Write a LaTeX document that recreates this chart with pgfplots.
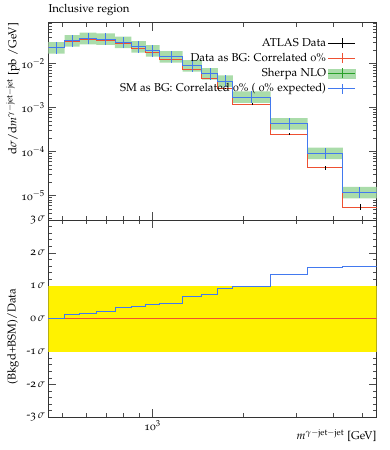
\documentclass[border=0pt]{standalone}
\usepackage[osf]{mathpazo}
\usepackage[T1]{fontenc}
\usepackage{pgfplots}
\usepackage{pgfplotstable}
\pgfplotsset{compat=1.18}
\definecolor{rvred}{RGB}{238,80,50}
\definecolor{rvblue}{RGB}{66,121,239}
\definecolor{rvband}{RGB}{170,220,170}
\definecolor{rvgreen}{RGB}{40,160,40}

% SM (Sherpa NLO) histogram: left bin edge, value
\pgfplotstableread{
xl y
450 0.0225
510 0.0325
572 0.0368
650 0.0355
750 0.0300
850 0.0238
950 0.0193
1055 0.0141
1260 0.00883
1460 0.00582
1650 0.00397
1850 0.00172
2470 4.27e-4
3280 9.15e-5
4300 1.17e-5
5570 1.17e-5
}\smhist

% Data histogram
\pgfplotstableread{
xl y
450 0.0225
510 0.0310
572 0.0350
650 0.0335
750 0.0278
850 0.0219
950 0.0177
1055 0.0125
1260 0.00743
1460 0.00448
1650 0.00271
1850 0.00118
2470 2.50e-4
3280 4.26e-5
4300 5.5e-6
5570 5.5e-6
}\datahist

% Data at bin centres with errors
\pgfplotstableread{
x y e
479 0.0225 0.00045
540 0.0310 0.00062
610 0.0350 0.0007
698 0.0335 0.00067
798 0.0278 0.00056
899 0.0219 0.00044
1001 0.0177 0.00035
1153 0.0125 0.00031
1356 0.00743 0.00022
1552 0.00448 0.00016
1747 0.00271 0.00011
2138 0.00118 0.00006
2846 2.50e-4 1.75e-5
3756 4.26e-5 3.8e-6
4894 5.5e-6 8e-7
}\datapts

% Ratio in sigma
\pgfplotstableread{
xl s
450 0
510 0.12
572 0.155
650 0.21
750 0.34
850 0.36
950 0.43
1055 0.47
1260 0.69
1460 0.75
1650 0.92
1850 0.99
2470 1.33
3280 1.56
4300 1.60
5570 1.60
}\ratio

\begin{document}
\begin{tikzpicture}[font=\fontsize{11.4}{13.6}\selectfont]
\useasboundingbox (0,0) rectangle (389pt,450pt);

% ---------------- main panel
\begin{axis}[
  scale only axis, width=328.4pt, height=197.3pt,
  xmode=log, xmin=450, xmax=5570,
  axis line style={black!80, line width=0.5pt},
  every tick/.append style={black!70, line width=0.5pt},
  major tick length=8pt, minor tick length=4pt,
  xtick={1000},
  minor xtick={500,600,700,800,900,2000,3000,4000,5000},
  at={(48.3pt,230pt)}, anchor=south west,
  ymode=log, ymin=2.8e-6, ymax=0.084,
  xticklabels={},
  ytick={1e-5,1e-4,1e-3,1e-2},
  yticklabels={10$^{-5}$,10$^{-4}$,10$^{-3}$,10$^{-2}$},
  minor ytick={3e-6,4e-6,5e-6,6e-6,7e-6,8e-6,9e-6,
    2e-5,3e-5,4e-5,5e-5,6e-5,7e-5,8e-5,9e-5,
    2e-4,3e-4,4e-4,5e-4,6e-4,7e-4,8e-4,9e-4,
    2e-3,3e-3,4e-3,5e-3,6e-3,7e-3,8e-3,9e-3,
    2e-2,3e-2,4e-2,5e-2,6e-2,7e-2,8e-2},
  unbounded coords=jump,
  legend style={at={(0.937,0.932)}, anchor=north east, draw=none, fill=none,
    row sep=1.5pt, inner sep=0pt},
  legend cell align=right,
  legend plot pos=right,
]
\addlegendimage{legend image code/.code={
  \draw[black, line width=0.8pt] (0pt,0pt) -- (27pt,0pt);
  \draw[black, line width=0.8pt] (13.5pt,-5pt) -- (13.5pt,5pt);}}
\addlegendentry{ATLAS Data}
\addlegendimage{legend image code/.code={
  \draw[rvred, line width=0.8pt] (0pt,0pt) -- (27pt,0pt);
  \draw[rvred, line width=0.8pt] (13.5pt,-5pt) -- (13.5pt,5pt);}}
\addlegendentry{Data as BG: Correlated 0\%}
\addlegendimage{legend image code/.code={
  \fill[rvband] (0pt,-4.5pt) rectangle (27pt,4.5pt);
  \draw[rvgreen, line width=0.8pt] (0pt,0pt) -- (27pt,0pt);
  \draw[rvgreen, line width=0.8pt] (13.5pt,-5pt) -- (13.5pt,5pt);}}
\addlegendentry{Sherpa NLO}
\addlegendimage{legend image code/.code={
  \draw[rvblue, line width=0.8pt] (0pt,0pt) -- (27pt,0pt);
  \draw[rvblue, line width=0.8pt] (13.5pt,-5pt) -- (13.5pt,5pt);}}
\addlegendentry{SM as BG: Correlated 0\% ( 0\% expected)}

% Sherpa NLO uncertainty band (upper edge, then lower edge reversed)
\addplot[fill=rvband, draw=none, forget plot] coordinates {
 (450,0.0304)(510,0.0304)(510,0.0439)(572,0.0439)(572,0.0497)(650,0.0497)
 (650,0.0479)(750,0.0479)(750,0.0405)(850,0.0405)(850,0.0321)(950,0.0321)
 (950,0.0261)(1055,0.0261)(1055,0.0190)(1260,0.0190)(1260,0.0119)(1460,0.0119)
 (1460,0.00786)(1650,0.00786)(1650,0.00536)(1850,0.00536)(1850,0.00232)(2470,0.00232)
 (2470,5.76e-4)(3280,5.76e-4)(3280,1.235e-4)(4300,1.235e-4)(4300,1.58e-5)(5570,1.58e-5)
 (5570,8.66e-6)(4300,8.66e-6)(4300,6.77e-5)(3280,6.77e-5)(3280,3.16e-4)(2470,3.16e-4)
 (2470,0.00127)(1850,0.00127)(1850,0.00294)(1650,0.00294)(1650,0.00431)(1460,0.00431)
 (1460,0.00653)(1260,0.00653)(1260,0.0104)(1055,0.0104)(1055,0.0143)(950,0.0143)
 (950,0.0176)(850,0.0176)(850,0.0222)(750,0.0222)(750,0.0263)(650,0.0263)
 (650,0.0272)(572,0.0272)(572,0.0241)(510,0.0241)(510,0.0167)(450,0.0167)
} -- cycle;

\addplot[rvred, line width=0.9pt, const plot mark left, forget plot] table[x=xl, y=y] {\datahist};
\addplot[black, line width=0.8pt, only marks, mark=*, mark size=0pt, forget plot,
  error bars/.cd, y dir=both, y explicit, error mark=none]
  table[x=x, y=y, y error=e] {\datapts};

\addplot[rvblue, line width=0.9pt, const plot mark left, forget plot] table[x=xl, y=y] {\smhist};
% SM uncertainty bars at bin centres (low, high)
\addplot[rvblue, line width=0.8pt, mark=none, forget plot] coordinates {
 (479,0.0167)(479,0.0304)(479,nan)
 (540,0.0241)(540,0.0439)(540,nan)
 (610,0.0272)(610,0.0497)(610,nan)
 (698,0.0263)(698,0.0479)(698,nan)
 (798,0.0222)(798,0.0405)(798,nan)
 (899,0.0176)(899,0.0321)(899,nan)
 (1001,0.0143)(1001,0.0261)(1001,nan)
 (1153,0.0104)(1153,0.0190)(1153,nan)
 (1356,0.00653)(1356,0.0119)(1356,nan)
 (1552,0.00431)(1552,0.00786)(1552,nan)
 (1747,0.00294)(1747,0.00536)(1747,nan)
 (2138,0.00127)(2138,0.00232)(2138,nan)
 (2846,3.16e-4)(2846,5.76e-4)(2846,nan)
 (3756,6.77e-5)(3756,1.235e-4)(3756,nan)
 (4894,8.66e-6)(4894,1.58e-5)
};
\end{axis}

% ---------------- ratio panel
\begin{axis}[
  scale only axis, width=328.4pt, height=197.3pt,
  xmode=log, xmin=450, xmax=5570,
  axis line style={black!80, line width=0.5pt},
  every tick/.append style={black!70, line width=0.5pt},
  major tick length=8pt, minor tick length=4pt,
  xtick={1000},
  minor xtick={500,600,700,800,900,2000,3000,4000,5000},
  at={(48.3pt,32.7pt)}, anchor=south west,
  ymin=-3, ymax=3,
  ytick={-3,-2,-1,0,1,2,3},
  yticklabels={-3\,$\sigma$,-2\,$\sigma$,-1\,$\sigma$,0\,$\sigma$,1\,$\sigma$,2\,$\sigma$,3\,$\sigma$},
  minor y tick num=4,
  xticklabels={10$^{3}$},
]
\addplot[fill=yellow, draw=none, forget plot] coordinates {(450,-1) (5570,-1) (5570,1) (450,1)} -- cycle;
\addplot[rvred, line width=0.9pt, forget plot] coordinates {(450,0) (5570,0)};
\addplot[rvblue, line width=0.9pt, const plot mark left, forget plot] table[x=xl, y=s] {\ratio};
\end{axis}

\node[anchor=base west, inner sep=0pt] at (48.3pt,437.5pt) {Inclusive region};
\node[rotate=90, anchor=east, inner sep=0pt] at (13pt,427pt)
  {d$\sigma$/d$m^{\gamma-\mathrm{jet}-\mathrm{jet}}$ [pb /GeV]};
\node[rotate=90, inner sep=0pt] at (13pt,113.5pt) {(Bkgd+BSM)/Data};
\node[anchor=base east, inner sep=0pt] at (376.7pt,10pt)
  {$m^{\gamma-\mathrm{jet}-\mathrm{jet}}$ [GeV]};
\end{tikzpicture}
\end{document}
